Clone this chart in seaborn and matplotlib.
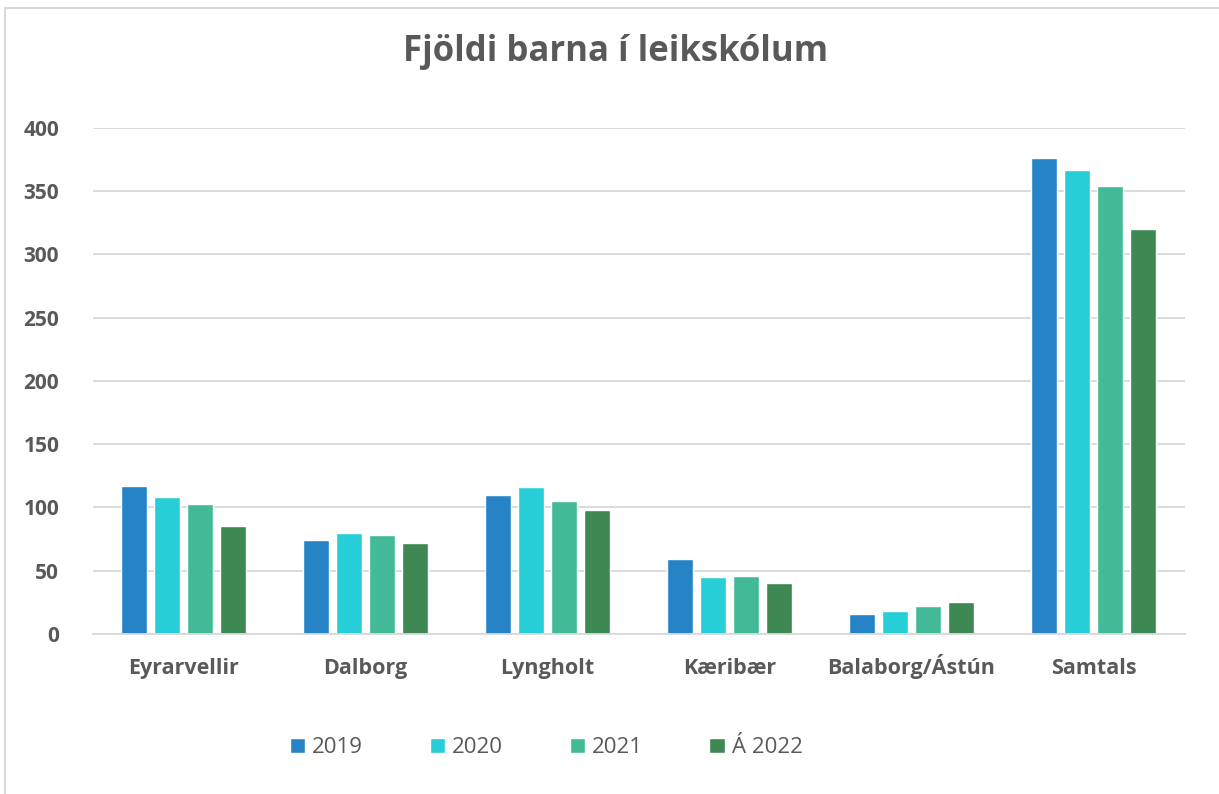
import numpy as np
import pandas as pd
import matplotlib
matplotlib.use('Agg')
import matplotlib.pyplot as plt
from matplotlib.patches import Rectangle
import seaborn as sns

# Data
schools = ["Eyrarvellir", "Dalborg", "Lyngholt", "Kæribær", "Balaborg/Ástún", "Samtals"]
years = ["2019", "2020", "2021", "Á 2022"]
v2019 = [117, 74, 110, 59, 16, 376]
v2020 = [108, 80, 116, 45, 18, 367]
v2021 = [103, 78, 105, 46, 22, 354]
v2022 = [85, 72, 98, 40, 25, 320]
colors = ["#2683C6", "#27CED7", "#42BA97", "#3E8853"]

rows = []
for yr, vals in zip(years, [v2019, v2020, v2021, v2022]):
    for s, v in zip(schools, vals):
        rows.append({"Leikskóli": s, "Ár": yr, "Fjöldi": v})
df = pd.DataFrame(rows)

sns.set_theme(style="white")
plt.rcParams['font.family'] = ['Open Sans', 'DejaVu Sans']
text_col = "#595959"

fig = plt.figure(figsize=(12.19, 7.94), dpi=100)
ax = fig.add_axes([0.0759, 0.2015, 0.8958, 0.6375])

sns.barplot(data=df, x="Leikskóli", y="Fjöldi", hue="Ár", hue_order=years,
            order=schools, palette=colors, width=0.725, gap=0.22,
            saturation=1, ax=ax, legend=True)

ax.set_ylim(0, 400)
ax.set_yticks(range(0, 401, 50))
ax.yaxis.grid(True, color="#D9D9D9", linewidth=1.3)
ax.set_axisbelow(True)
for sp in ["top", "right", "left"]:
    ax.spines[sp].set_visible(False)
ax.spines["bottom"].set_color("#D9D9D9")
ax.spines["bottom"].set_linewidth(1.3)
ax.set_xlabel("")
ax.set_ylabel("")
ax.tick_params(axis="x", length=0, pad=29, colors=text_col)
ax.tick_params(axis="y", length=0, pad=24, colors=text_col)
for lbl in ax.get_xticklabels():
    lbl.set_fontweight("bold")
    lbl.set_fontsize(15.5)
    lbl.set_verticalalignment("baseline")
for lbl in ax.get_yticklabels():
    lbl.set_fontweight("bold")
    lbl.set_fontsize(15)

ax.legend_.remove()
handles, labels = ax.get_legend_handles_labels()
fig.legend(handles, labels, loc="center", bbox_to_anchor=(0.448, 0.058), ncol=4,
           frameon=False, fontsize=16, labelcolor=text_col, handlelength=0.7,
           handleheight=0.7, handletextpad=0.3, columnspacing=3.0)

fig.text(0.505, 0.935, "Fjöldi barna í leikskólum", ha="center", va="center",
         fontsize=25, fontweight="bold", color=text_col)

fig.patches.append(Rectangle((0.004, -0.01), 1.0, 1.0, transform=fig.transFigure,
                             fill=False, edgecolor="#D9D9D9", linewidth=1.5))

fig.savefig("out.png", dpi=100)
